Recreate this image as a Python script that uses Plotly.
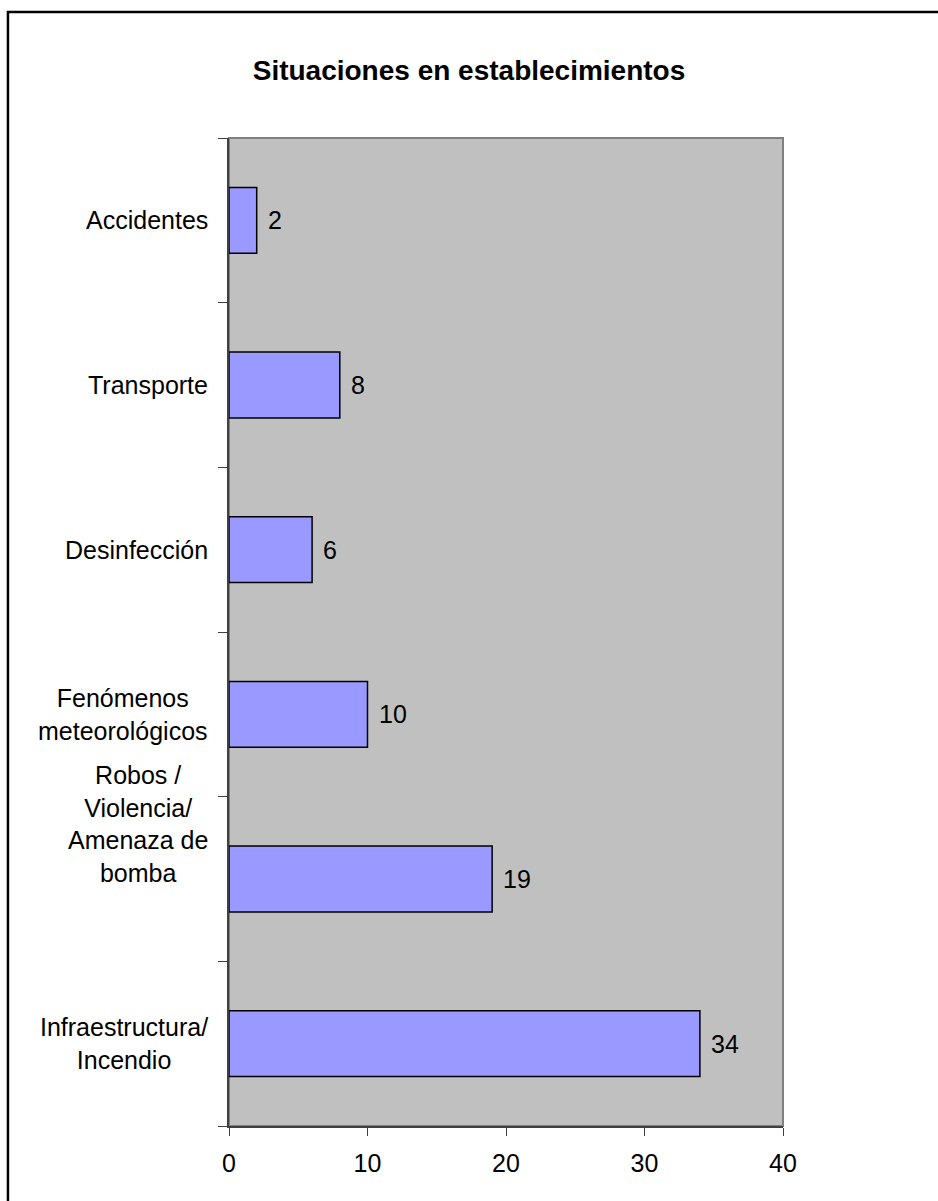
import plotly.graph_objects as go

# Situations reported in establishments (top to bottom as displayed)
categorias = [
    "Accidentes",
    "Transporte",
    "Desinfección",
    "Fenómenos<br>meteorológicos",
    "Robos /<br>Violencia/<br>Amenaza de<br>bomba",
    "Infraestructura/<br>Incendio",
]
valores = [2, 8, 6, 10, 19, 34]
ticks_x = [0, 10, 20, 30, 40]

FONT = "Liberation Sans, Arial, sans-serif"

fig = go.Figure()
fig.add_trace(go.Bar(
    x=valores,
    y=categorias,
    orientation="h",
    width=0.4,
    marker=dict(color="#9999FF", line=dict(color="#000000", width=1.5)),
    hoverinfo="skip",
))

# value labels next to each bar
for cat, val in zip(categorias, valores):
    fig.add_annotation(
        x=val, y=cat, xref="x", yref="y",
        text=str(val), showarrow=False,
        xanchor="left", xshift=9,
        font=dict(family=FONT, size=25, color="#000000"),
    )

# category labels, centred multi-line text to the left of the axis;
# the four-line label is lifted so it stays clear of the one below
for cat in categorias:
    lineas = cat.count("<br>") + 1
    fig.add_annotation(
        x=0, y=cat, xref="paper", yref="y",
        text=cat, showarrow=False,
        xanchor="right", xshift=-19, align="center",
        yshift=55 if lineas > 3 else 0,
        font=dict(family=FONT, size=25, color="#000000"),
    )

# plot area frame (grey top/right edges)
fig.add_shape(type="rect", xref="paper", yref="paper",
              x0=0, x1=1, y0=0, y1=1,
              line=dict(color="#808080", width=2), layer="below")

# outer chart frame
fig.add_shape(type="rect", xref="paper", yref="paper",
              x0=-0.399, x1=1.30, y0=-0.09, y1=1.1275,
              line=dict(color="#000000", width=2.5))

fig.update_layout(
    width=938, height=1201,
    margin=dict(l=229, r=155, t=138, b=75),
    paper_bgcolor="#FFFFFF",
    plot_bgcolor="#C0C0C0",
    showlegend=False,
    title=dict(
        text="<b>Situaciones en establecimientos</b>",
        x=0.5, xref="container", xanchor="center",
        y=1 - 70 / 1201, yanchor="middle",
        font=dict(family=FONT, size=28, color="#000000"),
    ),
    xaxis=dict(
        range=[0, 40],
        tickvals=ticks_x,
        ticks="outside", ticklen=8, tickcolor="#404040", tickwidth=1,
        showgrid=False, zeroline=False,
        showline=True, linecolor="#404040", linewidth=2,
        tickfont=dict(family=FONT, size=25, color="#000000"),
        ticklabelstandoff=6,
        fixedrange=True,
    ),
    yaxis=dict(
        type="category",
        categoryorder="array",
        categoryarray=categorias[::-1],
        tickson="boundaries",
        ticks="outside", ticklen=9, tickcolor="#404040", tickwidth=1,
        showticklabels=False,
        showgrid=False, zeroline=False,
        showline=True, linecolor="#404040", linewidth=2,
        fixedrange=True,
    ),
)

fig.write_html("out.html")
